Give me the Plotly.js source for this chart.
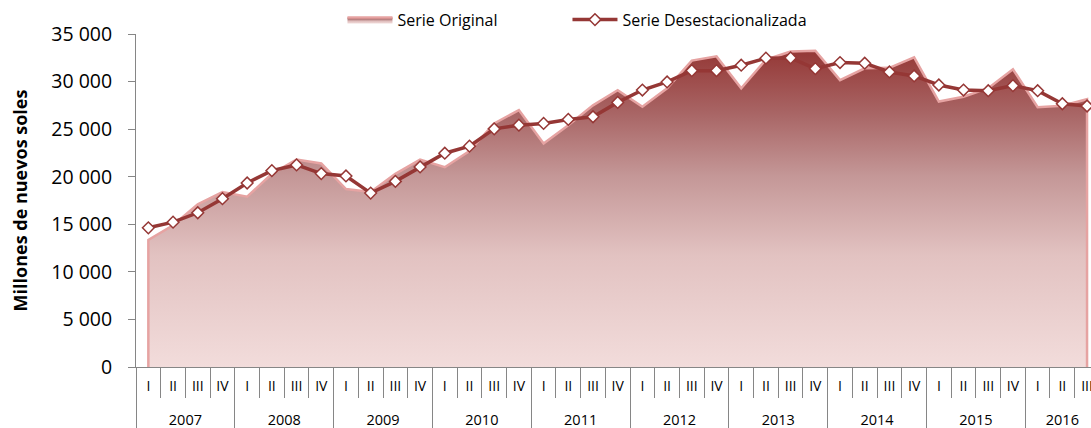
<!DOCTYPE html>
<html><head><meta charset="utf-8">
<script src="https://cdn.plot.ly/plotly-3.0.1.min.js"></script>
<style>html,body{margin:0;padding:0;background:#fff;overflow:hidden}</style>
</head><body><div id="chart" style="width:1091px;height:428px"></div>
<script>
const years = ['2007','2007','2007','2007','2008','2008','2008','2008','2009','2009','2009','2009',
  '2010','2010','2010','2010','2011','2011','2011','2011','2012','2012','2012','2012',
  '2013','2013','2013','2013','2014','2014','2014','2014','2015','2015','2015','2015',
  '2016','2016','2016'];
const quarters = ['I','II','III','IV','I','II','III','IV','I','II','III','IV',
  'I','II','III','IV','I','II','III','IV','I','II','III','IV',
  'I','II','III','IV','I','II','III','IV','I','II','III','IV',
  'I','II','III'];
const serieOriginal = [13360,14900,17100,18400,17900,20300,21800,21400,18700,18400,20300,21800,
  21000,22700,25600,27000,23500,25400,27500,29100,27350,29300,32200,32650,
  29300,32300,33150,33250,30150,31400,31450,32550,27900,28400,29300,31300,
  27300,27450,28150];
const serieDesestacionalizada = [14630,15220,16210,17690,19340,20640,21240,20330,20080,18280,19510,21030,
  22470,23210,25030,25420,25600,26020,26300,27810,29110,29960,31150,31150,
  31720,32460,32490,31360,32000,31930,31010,30590,29640,29110,29040,29570,
  29040,27670,27430];
const seriesNames = ['Serie Original', 'Serie Desestacionalizada'];

const n = quarters.length;
const idx = quarters.map((q, i) => i);                 // category positions
const qBounds = idx.map(i => i - 0.5);                  // quarter boundaries
// year groups
const yearList = [...new Set(years)];
const yearCenters = yearList.map(y => {
  const ii = idx.filter(i => years[i] === y);
  return (ii[0] + ii[ii.length - 1]) / 2;
});
const yearBounds = yearList.map(y => idx.find(i => years[i] === y) - 0.5);

// closed outline of the area: down to zero at first and last category
const areaX = [idx[0]].concat(idx, [idx[n-1]]);
const areaY = [0].concat(serieOriginal, [0]);

const xr = [-0.5, 38.16];
const grey = '#868686';

const traces = [
  {
    type: 'scatter', mode: 'lines', name: seriesNames[0], legend: 'legend',
    x: areaX, y: areaY, fill: 'toself',
    line: {color: '#e6a3a2', width: 2.5},
    fillgradient: {type: 'vertical', start: 0, stop: 33500,
      colorscale: [[0,'#f2dcdb'],[0.35,'#e2c2c1'],[0.6,'#c49797'],[0.8,'#a86464'],[1,'#943634']]},
    hoverinfo: 'skip'
  },
  {
    type: 'scatter', mode: 'lines+markers', name: seriesNames[1], legend: 'legend2',
    x: idx, y: serieDesestacionalizada,
    line: {color: '#953735', width: 3.5},
    marker: {symbol: 'diamond', size: 9, color: '#ffffff', line: {color: '#953735', width: 1.5}}
  },
  {
    // carrier for the year-level axis (draws nothing)
    type: 'scatter', mode: 'none', xaxis: 'x2', yaxis: 'y',
    x: yearCenters, y: yearCenters.map(() => 0),
    showlegend: false, hoverinfo: 'skip'
  }
];

const legendCommon = {orientation: 'h', xanchor: 'left', y: 1.094, yanchor: 'top',
  font: {size: 16}, itemwidth: 45, bgcolor: 'rgba(0,0,0,0)'};

const layout = {
  width: 1091, height: 428,
  margin: {l: 136, r: 0, t: 34, b: 61, pad: 0},
  paper_bgcolor: '#ffffff', plot_bgcolor: '#ffffff',
  separators: ', ',
  font: {family: 'Open Sans, sans-serif', color: '#000000'},
  showlegend: true,
  legend: Object.assign({}, legendCommon, {x: 0.2162}),
  legend2: Object.assign({}, legendCommon, {x: 0.4518}),
  xaxis: {
    type: 'linear', range: xr, fixedrange: true,
    tickmode: 'array', tickvals: idx, ticktext: quarters,
    ticks: '', ticklabelstandoff: 6, ticklabeloverflow: 'allow',
    minor: {tickmode: 'array', tickvals: qBounds, ticks: 'outside', ticklen: 30, tickcolor: grey, tickwidth: 1, showgrid: false},
    showline: true, linecolor: grey, linewidth: 1,
    showgrid: false, zeroline: false,
    tickfont: {size: 14, color: '#000'}
  },
  xaxis2: {
    type: 'linear', range: xr, overlaying: 'x', anchor: 'y', side: 'bottom', fixedrange: true,
    tickmode: 'array', tickvals: yearCenters, ticktext: yearList,
    ticks: '', ticklabelstandoff: 42, ticklabeloverflow: 'allow',
    minor: {tickmode: 'array', tickvals: yearBounds, ticks: 'outside', ticklen: 61, tickcolor: grey, tickwidth: 1, showgrid: false},
    showline: false, showgrid: false, zeroline: false,
    tickfont: {size: 14.5, color: '#000'}
  },
  yaxis: {
    range: [0, 35000], tickmode: 'linear', dtick: 5000, tick0: 0,
    tickformat: ',d',
    showline: true, linecolor: grey, linewidth: 1,
    ticks: 'outside', ticklen: 7, tickcolor: grey, ticklabelstandoff: 12,
    showgrid: false, zeroline: false,
    tickfont: {size: 19.5, color: '#000'},
    title: {text: '<b>Millones de nuevos soles</b>', font: {size: 18}, standoff: 18}
  }
};

Plotly.newPlot('chart', traces, layout, {displayModeBar: false, staticPlot: true});
</script></body></html>
